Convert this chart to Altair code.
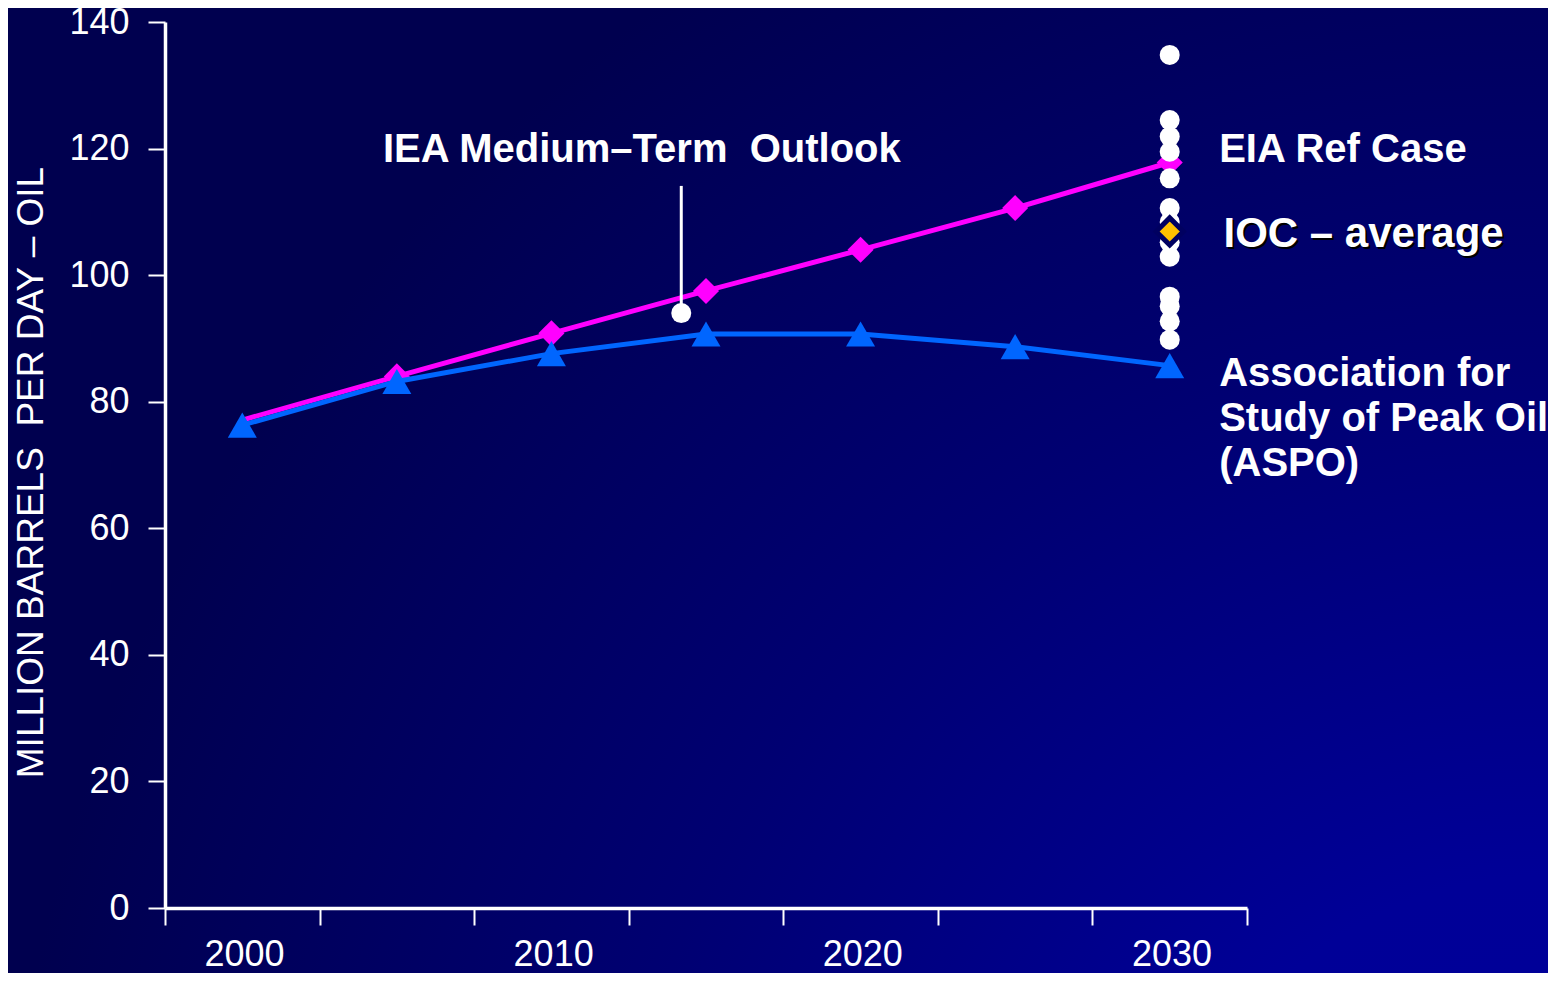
import altair as alt
import pandas as pd

# ---------------- data ----------------
years = [2000, 2005, 2010, 2015, 2020, 2025, 2030]
eia_ref_case = [77.1, 84.0, 90.8, 97.5, 104.0, 110.6, 117.8]
aspo = [76.3, 83.2, 87.6, 90.7, 90.7, 88.7, 85.7]

ioc_year = 2030
ioc_forecasts = [134.8, 124.5, 121.9, 119.5, 115.3, 110.6, 108.4, 105.2,
                 102.9, 96.6, 95.1, 92.7, 89.8]
ioc_average = 106.9

iea_year = 2014.2
iea_value = 94.0
iea_pointer = [95.3, 114.1]

x_ticks = [1997.5, 2002.5, 2007.5, 2012.5, 2017.5, 2022.5, 2027.5, 2032.5]
y_ticks = [0, 20, 40, 60, 80, 100, 120, 140]

label_texts = ["IEA Medium\u2013Term\u00a0 Outlook", "EIA Ref Case",
               "Association for", "Study of Peak Oil", "(ASPO)"]
label_x = [2004.55, 2031.6, 2031.6, 2031.6, 2031.6]
label_y = [119.7, 119.7, 84.4, 77.25, 70.15]
ioc_label = "IOC \u2013 average"
ioc_label_x = 2031.74
ioc_label_y = 106.5

y_title = "MILLION BARRELS\u00a0 PER DAY \u2013 OIL"

# ---------------- tables ----------------
series = pd.DataFrame({"year": years, "eia": eia_ref_case, "aspo": aspo})
ioc_df = pd.DataFrame({"year": [ioc_year] * len(ioc_forecasts), "v": ioc_forecasts})
avg_df = pd.DataFrame({"year": [ioc_year], "v": [ioc_average]})
iea_df = pd.DataFrame({"year": [iea_year], "v": [iea_value],
                       "p1": [iea_pointer[0]], "p2": [iea_pointer[1]]})
lab_df = pd.DataFrame({"t": label_texts, "x": label_x, "y": label_y})
ioc_lab_df = pd.DataFrame({"t": [ioc_label], "x": [ioc_label_x], "y": [ioc_label_y]})

W, H = 1082, 886
PAD = {"left": 157, "top": 14, "right": 301, "bottom": 65}

FONT = "Liberation Sans"

xs = alt.Scale(domain=[1997.5, 2032.5], nice=False, zero=False)
ys = alt.Scale(domain=[0, 140], nice=False, zero=True)

x_axis = alt.Axis(
    values=x_ticks,
    labelExpr="((datum.value - 1997.5) % 10 == 0 && datum.value < 2030) ? format(datum.value + 2.5, 'd') : ''",
    labelOffset=79, labelFlush=False, labelOverlap=False,
    title=None, grid=False, tickSize=17, labelPadding=12, zindex=1,
)
y_axis = alt.Axis(
    values=y_ticks, title=y_title, titleX=-134, titleY=450, titleAngle=270,
    titleAlign="center", titleBaseline="middle",
    grid=False, tickSize=17, labelPadding=19, zindex=1,
)


def X(f):
    return alt.X(f"{f}:Q", scale=xs, axis=x_axis)


def Y(f):
    return alt.Y(f"{f}:Q", scale=ys, axis=y_axis)


gradient = alt.RadialGradient(
    gradient="radial",
    stops=[alt.GradientStop(color="#00009b", offset=0),
           alt.GradientStop(color="#000097", offset=0.25),
           alt.GradientStop(color="#000072", offset=0.6),
           alt.GradientStop(color="#00004f", offset=1)],
    x1=1, y1=1, r1=0, x2=1, y2=1, r2=1,
)

bg = alt.Chart(pd.DataFrame({"bg": [0]})).mark_rect(fill=gradient).encode(
    x=alt.value(-PAD["left"]), x2=alt.value(W + PAD["right"]),
    y=alt.value(-PAD["top"]), y2=alt.value(H + PAD["bottom"]),
)

base = alt.Chart(series)
eia_line = base.mark_line(color="#FF00FF", strokeWidth=5).encode(x=X("year"), y=Y("eia"))
eia_pts = base.mark_point(shape="diamond", filled=True, size=680, color="#FF00FF",
                          opacity=1).encode(x=X("year"), y=Y("eia")).transform_filter("datum.year > 2000")
aspo_line = base.mark_line(color="#0066FF", strokeWidth=5).encode(x=X("year"), y=Y("aspo"))
aspo_pts = base.mark_point(shape="triangle-up", filled=True, size=840, color="#0066FF",
                           opacity=1).encode(x=X("year"), y=Y("aspo"))

iea_rule = alt.Chart(iea_df).mark_rule(color="white", strokeWidth=3).encode(
    x=X("year"), y=Y("p1"), y2="p2")
iea_pt = alt.Chart(iea_df).mark_point(shape="circle", filled=True, size=400, color="white",
                                      opacity=1).encode(x=X("year"), y=Y("v"))

ioc_pts = alt.Chart(ioc_df).mark_point(shape="circle", filled=True, size=400, color="white",
                                       opacity=1).encode(x=X("year"), y=Y("v"))
avg_pt = alt.Chart(avg_df).mark_point(shape="diamond", filled=True, size=740, fill="#FFC000",
                                      stroke="#000060", strokeWidth=5, opacity=1).encode(
    x=X("year"), y=Y("v"))

labels = alt.Chart(lab_df).mark_text(align="left", baseline="middle", font=FONT,
                                     fontWeight="bold", fontSize=40, color="white").encode(
    x=X("x"), y=Y("y"), text="t:N")
ioc_shadow = alt.Chart(ioc_lab_df).mark_text(align="left", baseline="middle", font=FONT,
                                             fontWeight="bold", fontSize=42, color="#000000",
                                             dx=2, dy=2).encode(x=X("x"), y=Y("y"), text="t:N")
ioc_text = alt.Chart(ioc_lab_df).mark_text(align="left", baseline="middle", font=FONT,
                                           fontWeight="bold", fontSize=42, color="white").encode(
    x=X("x"), y=Y("y"), text="t:N")

chart = alt.layer(
    bg, eia_line, eia_pts, aspo_line, aspo_pts, iea_rule, iea_pt,
    ioc_pts, avg_pt, labels, ioc_shadow, ioc_text,
).properties(
    width=W, height=H,
    autosize=alt.AutoSizeParams(type="none"),
    padding=PAD,
    background="#000050",
).configure_axis(
    domainColor="white", domainWidth=3.5, tickColor="white", tickWidth=2,
    labelColor="white", labelFont=FONT, labelFontSize=36,
    titleColor="white", titleFont=FONT, titleFontSize=37, titleFontWeight="normal",
).configure_view(stroke=None)

chart.save("out.html", embed_options={"renderer": "svg", "actions": False})
